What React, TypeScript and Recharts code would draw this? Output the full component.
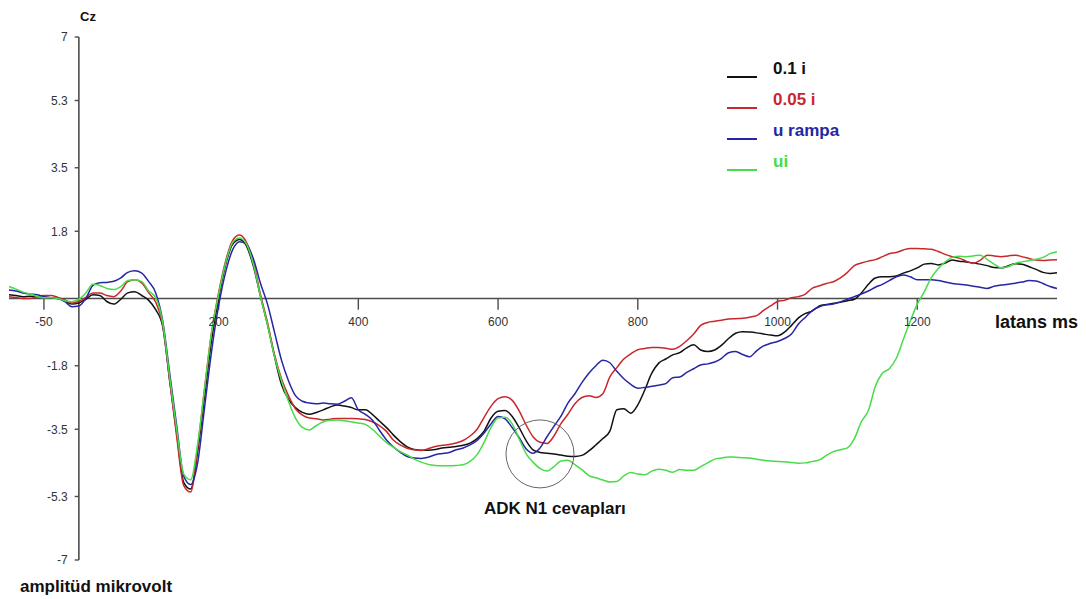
import React from 'react';
import {
  LineChart, Line, XAxis, YAxis, ReferenceLine, ReferenceDot, Legend,
} from 'recharts';

// Cz ERP waveforms, amplitude (µV) vs latency (ms), sampled every 10 ms

const FONT = '"Liberation Sans", Arial, Helvetica, sans-serif';

const TIMES = [
  -100, -90, -80, -70, -60, -50, -40, -30, -20, -10,
  0, 10, 20, 30, 40, 50, 60, 70, 80, 90,
  100, 110, 120, 130, 140, 150, 160, 170, 180, 190,
  200, 210, 220, 230, 240, 250, 260, 270, 280, 290,
  300, 310, 320, 330, 340, 350, 360, 370, 380, 390,
  400, 410, 420, 430, 440, 450, 460, 470, 480, 490,
  500, 510, 520, 530, 540, 550, 560, 570, 580, 590,
  600, 610, 620, 630, 640, 650, 660, 670, 680, 690,
  700, 710, 720, 730, 740, 750, 760, 770, 780, 790,
  800, 810, 820, 830, 840, 850, 860, 870, 880, 890,
  900, 910, 920, 930, 940, 950, 960, 970, 980, 990,
  1000, 1010, 1020, 1030, 1040, 1050, 1060, 1070, 1080, 1090,
  1100, 1110, 1120, 1130, 1140, 1150, 1160, 1170, 1180, 1190,
  1200, 1210, 1220, 1230, 1240, 1250, 1260, 1270, 1280, 1290,
  1300, 1310, 1320, 1330, 1340, 1350, 1360, 1370, 1380, 1390,
  1400,
];

const I01 = [
  0.1, 0.08, 0.05, 0.06, 0.05, 0.04, 0.02, 0.0, -0.07, -0.15,
  -0.12, -0.02, 0.1, 0.08, -0.08, -0.15, -0.02, 0.15, 0.18, 0.08,
  -0.05, -0.3, -0.75, -2.2, -3.6, -4.92, -5.1, -4.1, -2.6, -1.1,
  0.0, 0.9, 1.45, 1.58, 1.4, 0.85, 0.05, -0.7, -1.55, -2.3,
  -2.7, -2.92, -3.05, -3.1, -3.05, -2.98, -2.9, -2.85, -2.88, -2.92,
  -2.98, -2.98, -3.1, -3.28, -3.45, -3.65, -3.83, -3.97, -4.04, -4.06,
  -4.06, -4.04, -4.0, -3.98, -3.96, -3.93, -3.87, -3.75, -3.55, -3.2,
  -3.02, -3.0, -3.15, -3.45, -3.8, -4.05, -4.12, -4.14, -4.16, -4.19,
  -4.22, -4.23, -4.2, -4.08, -3.92, -3.75, -3.55, -2.98, -2.95, -3.07,
  -2.85, -2.45, -2.0, -1.73, -1.62, -1.51, -1.45, -1.32, -1.24, -1.38,
  -1.42, -1.38, -1.25, -1.07, -0.93, -0.89, -0.9, -0.92, -0.95, -0.98,
  -1.0, -0.9, -0.72, -0.52, -0.4, -0.33, -0.2, -0.16, -0.13, -0.1,
  -0.06, -0.02, 0.15, 0.38, 0.55, 0.58, 0.58, 0.6, 0.68, 0.74,
  0.82, 0.92, 0.94, 0.9, 0.95, 1.03, 1.0, 0.98, 0.95, 0.92,
  0.88, 0.83, 0.82, 0.87, 0.93, 0.92, 0.85, 0.78, 0.7, 0.67,
  0.69,
];

const I005 = [
  0.05, 0.03, 0.0, 0.0, 0.05, 0.08, 0.08, 0.03, -0.04, -0.12,
  -0.08, 0.03, 0.15, 0.15, 0.08, 0.05, 0.2, 0.45, 0.5, 0.42,
  0.15, -0.1, -0.7, -2.2, -3.7, -5.0, -5.18, -4.0, -2.4, -0.9,
  0.15, 1.0, 1.55, 1.7, 1.5, 0.95, 0.1, -0.65, -1.5, -2.15,
  -2.6, -2.95, -3.12, -3.2, -3.22, -3.25, -3.23, -3.21, -3.21, -3.21,
  -3.22, -3.24, -3.3, -3.4, -3.55, -3.79, -3.92, -4.01, -4.05, -4.07,
  -4.02, -3.96, -3.93, -3.91, -3.87, -3.8, -3.68, -3.5, -3.18, -2.88,
  -2.68, -2.63, -2.72, -3.0, -3.38, -3.7, -3.85, -3.88, -3.68, -3.35,
  -3.1, -2.82, -2.65, -2.6, -2.65, -2.55, -2.1, -1.85, -1.62, -1.48,
  -1.37, -1.34, -1.31, -1.31, -1.33, -1.36, -1.28, -1.13, -0.95, -0.72,
  -0.64, -0.61, -0.58, -0.55, -0.54, -0.53, -0.5, -0.46, -0.32, -0.2,
  -0.08, -0.05, 0.02, 0.05, 0.12, 0.28, 0.34, 0.4, 0.45, 0.55,
  0.7, 0.88, 0.95, 1.0, 1.04, 1.12, 1.2, 1.23, 1.3, 1.34,
  1.34, 1.33, 1.32, 1.26, 1.18, 1.12, 1.08, 1.0, 0.94, 1.02,
  1.16, 1.14, 1.12, 1.14, 1.16, 1.12, 1.07, 1.03, 1.02, 1.03,
  1.04,
];

const U_RAMPA = [
  0.23, 0.2, 0.15, 0.12, 0.1, 0.05, 0.02, 0.0, -0.08, -0.22,
  -0.2, 0.0, 0.35, 0.42, 0.43, 0.46, 0.55, 0.7, 0.74, 0.68,
  0.45, 0.15, -0.6, -2.0, -3.4, -4.75, -4.98, -4.4, -2.9, -1.4,
  -0.2, 0.7, 1.3, 1.52, 1.45, 1.05, 0.4, -0.15, -0.9, -1.65,
  -2.2, -2.6, -2.75, -2.8, -2.82, -2.8, -2.82, -2.83, -2.75, -2.66,
  -2.98, -3.1, -3.25, -3.52, -3.78, -3.97, -4.12, -4.23, -4.27, -4.28,
  -4.25, -4.18, -4.15, -4.12, -4.05, -4.0, -3.92, -3.8, -3.6, -3.35,
  -3.16, -3.22, -3.45, -3.72, -4.02, -4.14, -4.0, -3.7, -3.42, -3.15,
  -2.8, -2.55, -2.25, -2.0, -1.8, -1.65, -1.72, -1.95, -2.15, -2.3,
  -2.4, -2.38, -2.35, -2.32, -2.28, -2.12, -2.1, -1.98, -1.88, -1.78,
  -1.75, -1.7, -1.6, -1.45, -1.42, -1.5, -1.56, -1.4, -1.27, -1.2,
  -1.15, -1.07, -0.95, -0.68, -0.5, -0.32, -0.22, -0.17, -0.15, -0.09,
  -0.02, 0.05, 0.12, 0.2, 0.3, 0.38, 0.48, 0.58, 0.63, 0.58,
  0.5, 0.5, 0.5, 0.48, 0.44, 0.4, 0.38, 0.36, 0.33, 0.3,
  0.27, 0.33, 0.36, 0.38, 0.41, 0.44, 0.48, 0.47, 0.4, 0.32,
  0.27,
];

const UI = [
  0.32, 0.25, 0.17, 0.12, 0.06, 0.02, 0.02, 0.0, -0.06, -0.09,
  -0.02, 0.15, 0.38, 0.35, 0.27, 0.24, 0.32, 0.48, 0.5, 0.45,
  0.2, 0.02, -0.65, -2.1, -3.5, -4.7, -4.85, -3.9, -2.4, -0.9,
  0.1, 0.95, 1.5, 1.62, 1.45, 0.9, 0.05, -0.7, -1.55, -2.2,
  -2.75, -3.2, -3.45, -3.52, -3.4, -3.3, -3.26, -3.25, -3.27, -3.3,
  -3.33, -3.37, -3.5, -3.68, -3.85, -3.98, -4.1, -4.19, -4.3, -4.38,
  -4.44, -4.47, -4.48, -4.48, -4.47, -4.45, -4.36, -4.18, -3.85, -3.45,
  -3.2, -3.18, -3.35, -3.75, -4.15, -4.38, -4.55, -4.62, -4.5, -4.35,
  -4.33, -4.45, -4.58, -4.74, -4.8, -4.86, -4.91, -4.9, -4.75, -4.66,
  -4.7, -4.72, -4.62, -4.57, -4.6, -4.65, -4.58, -4.6, -4.6, -4.5,
  -4.4, -4.3, -4.27, -4.24, -4.25, -4.26, -4.27, -4.3, -4.33, -4.35,
  -4.36, -4.37, -4.39, -4.41, -4.4, -4.36, -4.32, -4.2, -4.1, -4.05,
  -4.0, -3.75, -3.3, -3.0, -2.35, -2.0, -1.88, -1.6, -1.1, -0.6,
  -0.15, 0.18, 0.55, 0.8, 0.98, 1.1, 1.13, 1.12, 1.14, 1.16,
  1.05, 0.92, 0.82, 0.85, 0.94, 0.98, 1.02, 1.05, 1.1, 1.2,
  1.25,
];

const SERIES = [
  { key: 'i01', name: '0.1 i', color: '#111111', values: I01 },
  { key: 'i005', name: '0.05 i', color: '#c8282d', values: I005 },
  { key: 'urampa', name: 'u rampa', color: '#2626a4', values: U_RAMPA },
  { key: 'ui', name: 'ui', color: '#48dc48', values: UI },
];

const Y_TICKS = [7, 5.3, 3.5, 1.8, -1.8, -3.5, -5.3, -7];
const X_TICKS = [-50, 200, 400, 600, 800, 1000, 1200];

const data = TIMES.map((t, i) => {
  const row: Record<string, number> = { t };
  SERIES.forEach((s) => { row[s.key] = s.values[i]; });
  return row;
});

const AXIS = '#4d4d4d';

function LegendBox({ payload }: any) {
  const items = [...(payload || [])].sort(
    (a: any, b: any) =>
      SERIES.findIndex((s) => s.name === a.value) - SERIES.findIndex((s) => s.name === b.value),
  );
  return (
    <div style={{ fontFamily: FONT }}>
      {items.map((p: any) => (
        <div key={p.value} style={{ position: 'relative', height: 31 }}>
          <div style={{ position: 'absolute', left: 0, top: 23, width: 30, height: 2, background: p.color }} />
          <span
            style={{
              position: 'absolute', left: 46, top: 0, lineHeight: '31px',
              fontSize: 17, fontWeight: 'bold', color: p.color, whiteSpace: 'nowrap',
            }}
          >
            {p.value}
          </span>
        </div>
      ))}
    </div>
  );
}

const textStyle: React.CSSProperties = {
  position: 'absolute', fontFamily: FONT, fontWeight: 'bold', color: '#111', whiteSpace: 'nowrap',
};

export default function App() {
  return (
    <div style={{ position: 'absolute', left: 0, top: 0, width: 1086, height: 599, background: '#fff' }}>
      <LineChart width={1086} height={599} data={data} margin={{ top: 37, right: 29, bottom: 39, left: 9 }}>
        <XAxis dataKey="t" type="number" domain={[-100, 1400]} hide />
        <YAxis type="number" domain={[-7, 7]} hide />

        <ReferenceLine y={0} stroke={AXIS} strokeWidth={1.6} />
        <ReferenceLine x={0} stroke={AXIS} strokeWidth={1.6} />
        {Y_TICKS.map((v) => (
          <ReferenceLine
            key={`y${v}`}
            segment={[{ x: -6, y: v }, { x: 0, y: v }]}
            stroke={AXIS}
            strokeWidth={1.4}
            label={{ value: String(v), position: 'left', offset: 7, fill: '#333', fontSize: 12, fontFamily: FONT }}
          />
        ))}
        {X_TICKS.map((t) => (
          <ReferenceLine
            key={`x${t}`}
            segment={[{ x: t, y: 0 }, { x: t, y: -0.3 }]}
            stroke={AXIS}
            strokeWidth={1.4}
            label={{ value: String(t), position: 'bottom', offset: 8, fill: '#333', fontSize: 12, fontFamily: FONT }}
          />
        ))}

        {SERIES.map((s) => (
          <Line
            key={s.key}
            dataKey={s.key}
            name={s.name}
            type="monotone"
            stroke={s.color}
            strokeWidth={1.5}
            dot={false}
            isAnimationActive={false}
          />
        ))}

        <ReferenceDot x={660} y={-4.16} r={34} fill="none" stroke="#555" strokeWidth={0.9} />

        <Legend
          layout="vertical"
          align="center"
          verticalAlign="middle"
          content={<LegendBox />}
          wrapperStyle={{ left: 727, top: 53, width: 160, height: 124 }}
        />
      </LineChart>

      <div style={{ ...textStyle, left: 80, top: 9, fontSize: 13, lineHeight: '15px' }}>Cz</div>
      <div style={{ ...textStyle, left: 995, top: 311, fontSize: 18, lineHeight: '22px' }}>latans ms</div>
      <div style={{ ...textStyle, left: 20, top: 577, fontSize: 17, lineHeight: '20px' }}>amplitüd mikrovolt</div>
      <div style={{ ...textStyle, left: 484, top: 498, fontSize: 17, lineHeight: '22px' }}>ADK N1 cevapları</div>
    </div>
  );
}
